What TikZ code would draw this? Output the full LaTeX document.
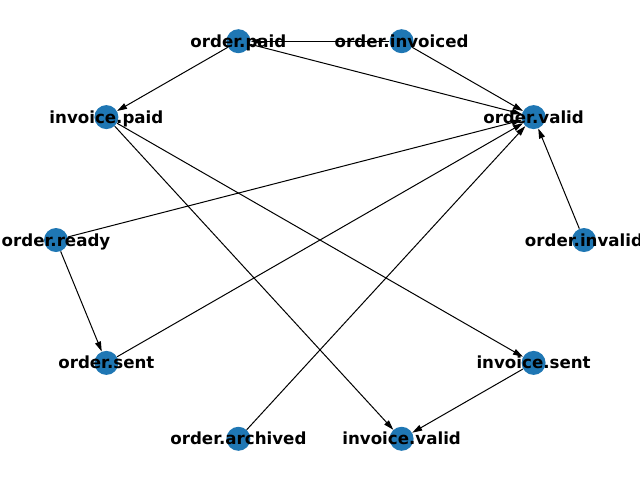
\documentclass[tikz,border=0pt]{standalone}
\usepackage{fontspec}
\setmainfont{DejaVu Sans}
\usetikzlibrary{arrows.meta}
\definecolor{nodeblue}{HTML}{1F77B4}
\begin{document}
\begin{tikzpicture}[x=0.75pt,y=-0.75pt,
  vert/.style={circle,minimum size=18pt,inner sep=0pt,draw=none},
  edge/.style={line width=0.75pt,-{Triangle[length=7.5pt,width=4.5pt]}},
  lbl/.style={font=\fontsize{12.5}{15}\selectfont\bfseries,inner sep=0pt,text height=9.3pt,text depth=0.3pt}]
\useasboundingbox (0,0) rectangle (640,480);
\node[vert] (oinv) at (584,240) {};
\node[vert] (oval) at (533.6,117.1) {};
\node[vert] (oinvd) at (401.6,41.2) {};
\node[vert] (opaid) at (238.4,41.2) {};
\node[vert] (ipaid) at (106.4,117.1) {};
\node[vert] (ordy) at (56,240) {};
\node[vert] (osent) at (106.4,362.9) {};
\node[vert] (oarch) at (238.4,438.8) {};
\node[vert] (ival) at (401.6,438.8) {};
\node[vert] (isent) at (533.6,362.9) {};
% edges
\draw[edge] (oinvd) -- (opaid);
\draw[edge] (opaid) -- (ipaid);
\draw[edge] (opaid) -- (oval);
\draw[edge] (oinvd) -- (oval);
\draw[edge] (ordy) -- (oval);
\draw[edge] (ordy) -- (osent);
\draw[edge] (osent) -- (oval);
\draw[edge] (oarch) -- (oval);
\draw[edge] (oinv) -- (oval);
\draw[edge] (ipaid) -- (isent);
\draw[edge] (ipaid) -- (ival);
\draw[edge] (isent) -- (ival);
% node discs
\foreach \n in {oinv,oval,oinvd,opaid,ipaid,ordy,osent,oarch,ival,isent}
  \fill[nodeblue] (\n) circle (9pt);
% labels
\node[lbl] (l1) at (oinv) {order.invalid};
\node[lbl] (l2) at (oval) {order.valid};
\node[lbl] (l3) at (oinvd) {order.invoiced};
\node[lbl] (l4) at (opaid) {order.paid};
\node[lbl] (l5) at (ipaid) {invoice.paid};
\node[lbl] (l6) at (ordy) {order.ready};
\node[lbl] (l7) at (osent) {order.sent};
\node[lbl] (l8) at (oarch) {order.archived};
\node[lbl] (l9) at (ival) {invoice.valid};
\node[lbl] (l10) at (isent) {invoice.sent};
\end{tikzpicture}
\end{document}
